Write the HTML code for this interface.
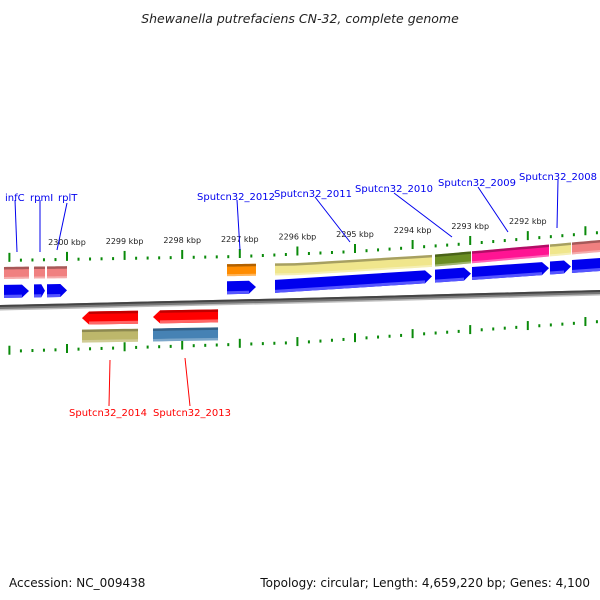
<!DOCTYPE html>
<html><head><meta charset="utf-8"><style>
html,body{margin:0;padding:0;background:#fff;}
svg{display:block;font-family:"DejaVu Sans","Liberation Sans",sans-serif;}
</style></head><body>
<svg id="chart" width="600" height="600" viewBox="0 0 600 600">
<text x="300" y="23" text-anchor="middle" font-size="12.5" font-style="italic" fill="#222">Shewanella putrefaciens CN-32, complete genome</text>
<g id="g"></g>
<text x="9" y="587" font-size="12" fill="#111">Accession: NC_009438</text>
<text x="590" y="587" text-anchor="end" font-size="12" fill="#111">Topology: circular; Length: 4,659,220 bp; Genes: 4,100</text>
</svg>
<script>
// data
const majorTicksKbp = [2301,2300,2299,2298,2297,2296,2295,2294,2293,2292,2291];
const tickLabelsKbp = [2300,2299,2298,2297,2296,2295,2294,2293,2292];
const fwdNames = ["infC","rpmI","rplT","Sputcn32_2012","Sputcn32_2011","Sputcn32_2010","Sputcn32_2009","Sputcn32_2008",""];
const fwdStart = [2301.094,2300.573,2300.347,2297.222,2296.389,2293.611,2292.969,2291.615,2291.233];
const fwdEnd   = [2300.66,2300.382,2300.0,2296.719,2293.663,2292.986,2291.632,2291.25,2290.5];
const fwdColor = ["#f08080","#f08080","#f08080","#ff8c00","#f0e68c","#6b8e23","#ff1493","#f0e68c","#f08080"];
const revNames = ["Sputcn32_2014","Sputcn32_2013"];
const revStart = [2299.74,2298.507];
const revEnd   = [2298.767,2297.378];
const revColor = ["#bdb76b","#4682b4"];

const NS="http://www.w3.org/2000/svg";
const G=document.getElementById('g');
function xOf(k){return 67+(2300-k)*57.6;}
function interp(pts){return x=>{for(let i=0;i<pts.length-1;i++){const a=pts[i],b=pts[i+1];if(x<=b[0]||i==pts.length-2){return a[1]+(b[1]-a[1])*(x-a[0])/(b[0]-a[0]);}}};}
const tickTop=interp([[0,262],[240,258],[355,253],[470,245],[600,234]]);
const barTop=interp([[0,267],[240,264],[300,263],[430,255],[600,240]]);
const arrTop=interp([[0,285],[240,281],[300,279],[430,270],[600,258]]);
const bone=interp([[0,305],[300,298],[600,290]]);
const revArr=interp([[0,313],[300,308],[600,300]]);
const revBar=interp([[0,331],[300,326],[600,318]]);
const botTick=interp([[0,356],[300,347],[600,326]]);
function el(t,a){const e=document.createElementNS(NS,t);for(const k in a)e.setAttribute(k,a[k]);G.appendChild(e);return e;}
function band(x1,x2,f,off,h){const p=[];const n=8;for(let i=0;i<=n;i++){const x=x1+(x2-x1)*i/n;p.push(x+','+(f(x)+off));}for(let i=n;i>=0;i--){const x=x1+(x2-x1)*i/n;p.push(x+','+(f(x)+off+h));}return p.join(' ');}

// backbone
let bp=el('polygon',{points:band(-5,605,bone,0,5),fill:'#777'});


el('polygon',{points:band(-5,605,bone,0,2),fill:'#444'});
el('polygon',{points:band(-5,605,bone,4,1.5),fill:'#bbb'});

// ticks
for(let k=2301;k>=2290.5;k-=0.2){
  const kk=Math.round(k*10)/10;const x=xOf(kk);if(x<0||x>600)continue;
  const major=Math.abs(kk-Math.round(kk))<0.01;
  const h=major?9:3;const y=tickTop(x);
  let t=el('rect',{x:x-1,y:y-h,width:2,height:h,fill:'#0a8a0a'});
  
  
  const yb=botTick(x);
  let b=el('rect',{x:x-1,y:yb-(major?10:6),width:2,height:h,fill:'#0a8a0a'});
  
  
}
tickLabelsKbp.forEach(k=>{const x=xOf(k);let t=el('text',{x:x,y:tickTop(x)-16,'font-size':'8','text-anchor':'middle',fill:'#222'});t.textContent=k+' kbp';
  
  });

// forward genes
const fwdLabelPos=[[5,197,'start'],[30,197,'start'],[58,197,'start'],[236,196,'middle'],[313,193,'middle'],[394,188,'middle'],[477,182,'middle'],[558,176,'middle']];
fwdNames.forEach((n,i)=>{
  const x1=xOf(fwdStart[i]),x2=Math.min(xOf(fwdEnd[i]),610);
  let b=el('polygon',{points:band(x1,x2,barTop,0,12),fill:fwdColor[i]});
  
  
  el('polygon',{points:band(x1,x2,barTop,0,2.5),fill:'rgba(0,0,0,0.3)'});
  el('polygon',{points:band(x1,x2,barTop,10,2),fill:'rgba(255,255,255,0.35)'});
  const hl=Math.min(7,(x2-x1)/3);const ya=arrTop(x1),yb=arrTop(x2-hl),ye=arrTop(x2);
  let a=el('polygon',{points:`${x1},${ya} ${x2-hl},${yb} ${x2},${ye+6.5} ${x2-hl},${yb+13} ${x1},${ya+13}`,fill:'#0000ee'});
  
  
  el('polygon',{points:`${x1},${ya+10} ${x2-hl},${yb+10} ${x2-hl},${yb+13} ${x1},${ya+13}`,fill:'#5555ff'});
});
const fwdLines=[[15,200,17,252],[40,200,40,252],[67,203,57,250],[237,200,240,250],[315,197,350,242],[394,193,452,237],[478,187,508,232],[558,180,557,228]];
fwdLines.forEach((l,i)=>{
  let ln=el('line',{x1:l[0],y1:l[1],x2:l[2],y2:l[3],stroke:'#0000ee','stroke-width':1});
  
  
  const p=fwdLabelPos[i];
  let t=el('text',{x:p[0],y:p[1]+4,'font-size':'10','text-anchor':p[2],fill:'#0000ee'});
  t.textContent=fwdNames[i];
  
  
});

// reverse genes
const revLines=[[110,360,109,406],[185,358,190,406]];
const revLabelX=[108,192];
revNames.forEach((n,i)=>{
  const x1=xOf(revStart[i]),x2=xOf(revEnd[i]);const hl=7;
  const ya=revArr(x1),yb=revArr(x1+hl),ye=revArr(x2);
  let a=el('polygon',{points:`${x1},${ya+6.5} ${x1+hl},${yb} ${x2},${ye} ${x2},${ye+13} ${x1+hl},${yb+13}`,fill:'#ff0000'});
  
  
  el('polygon',{points:`${x1+hl},${yb} ${x2},${ye} ${x2},${ye+2.5} ${x1+hl},${yb+2.5}`,fill:'#c00000'});
  el('polygon',{points:`${x1+hl},${yb+10} ${x2},${ye+10} ${x2},${ye+13} ${x1+hl},${yb+13}`,fill:'#ff6666'});
  let b=el('polygon',{points:band(x1,x2,revBar,0,13),fill:revColor[i]});
  
  
  el('polygon',{points:band(x1,x2,revBar,0,2.5),fill:'rgba(0,0,0,0.25)'});
  el('polygon',{points:band(x1,x2,revBar,10.5,2.5),fill:'rgba(255,255,255,0.3)'});
  const l=revLines[i];
  let ln=el('line',{x1:l[0],y1:l[1],x2:l[2],y2:l[3],stroke:'#ff0000','stroke-width':1});
  
  
  let t=el('text',{x:revLabelX[i],y:416,'font-size':'10','text-anchor':'middle',fill:'#ff0000'});
  t.textContent=n;
  
  
});
</script>
</body></html>
